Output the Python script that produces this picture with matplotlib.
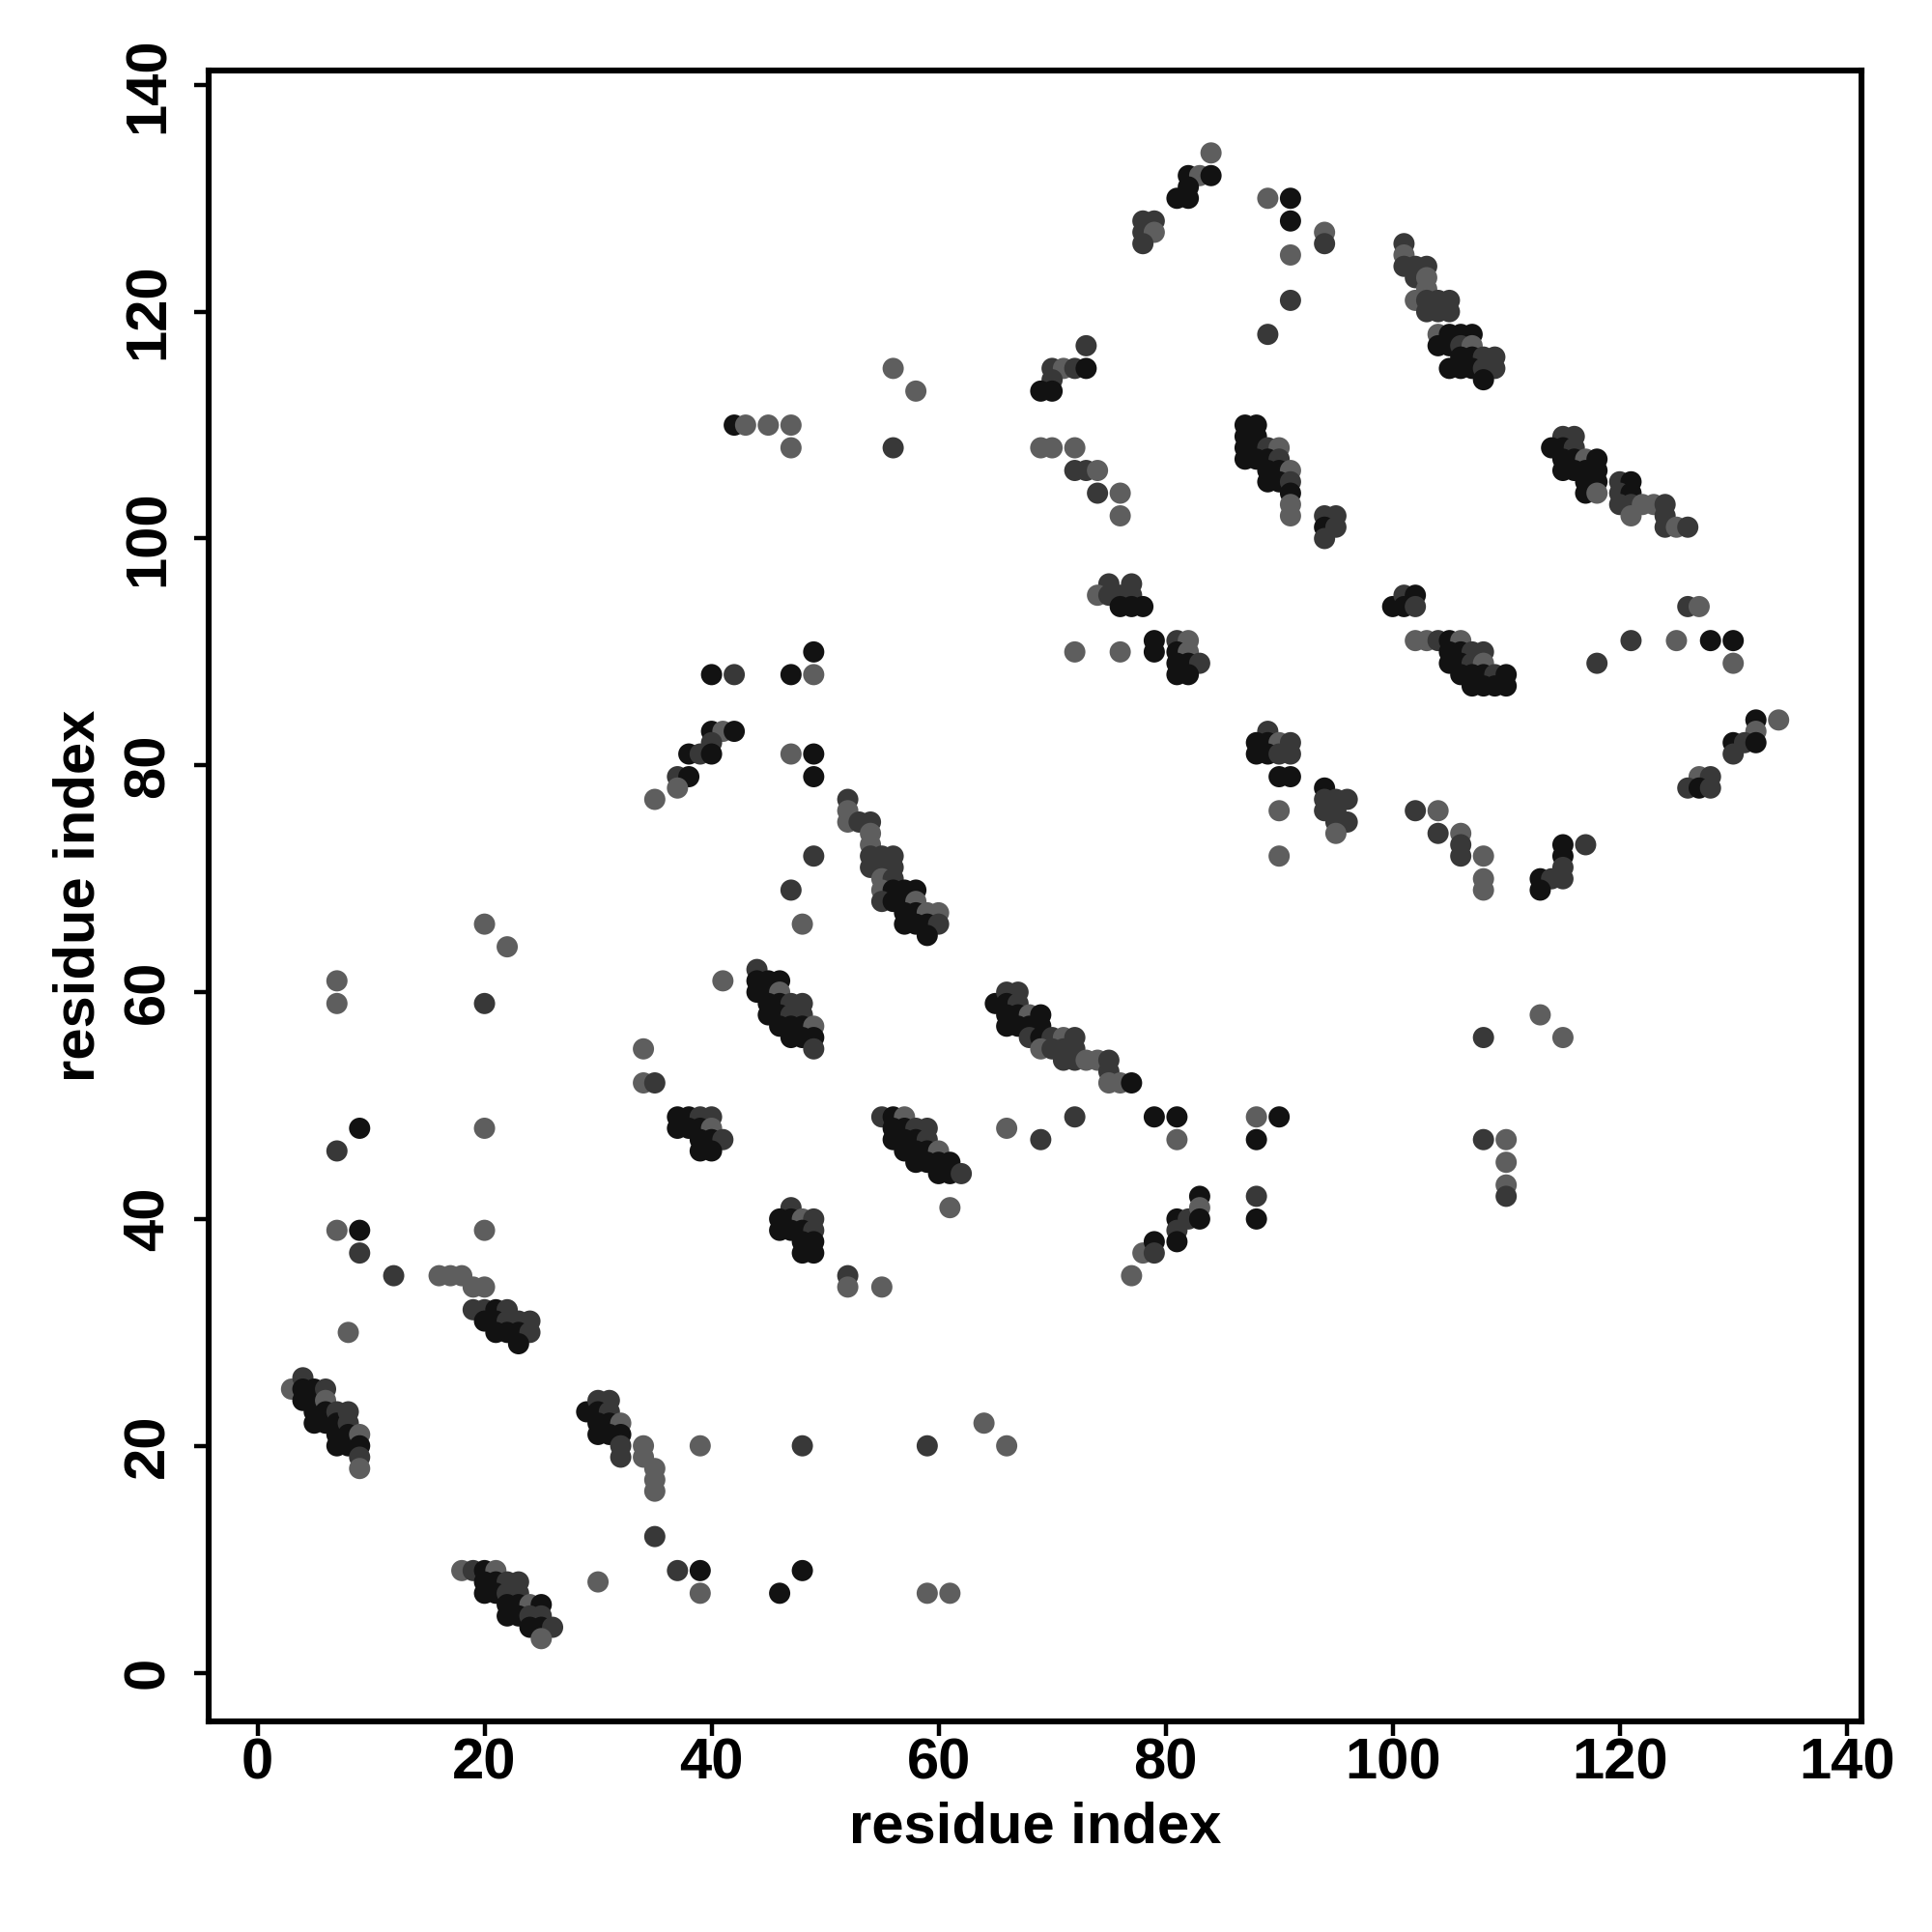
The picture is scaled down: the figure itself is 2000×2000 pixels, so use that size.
import matplotlib
matplotlib.use("Agg")
import matplotlib.pyplot as plt

plt.rcParams['font.family'] = ['Liberation Sans', 'DejaVu Sans']

# contacts: (residue i, residue j, shade) ; shade g=gray, d=dark, k=black
strand_a = [(3,25,'g'),(4,26,'d'),(4,25,'k'),(4,24,'k'),(5,25,'k'),(5,24,'k'),(5,23,'k'),(5,22,'k'),(6,25,'d'),(6,24,'g'),
            (6,23,'k'),(6,22,'k'),(7,23,'d'),(7,22,'k'),(7,21,'k'),(7,20,'k'),(8,23,'d'),(8,22,'d'),(8,21,'k'),(8,20,'k'),
            (9,21,'g'),(9,20,'k'),(9,19,'d'),(9,18,'g')]
low_left = [(7,39,'g'),(9,39,'k'),(9,37,'d'),(12,35,'d'),(20,39,'g'),(16,35,'g'),(17,35,'g'),(18,35,'g'),(19,34,'g'),(20,34,'g'),
            (19,32,'d'),(20,32,'d'),(21,32,'k'),(22,32,'d'),(20,31,'k'),(21,31,'k'),(22,31,'d'),(23,31,'d'),(24,31,'d'),
            (21,30,'k'),(22,30,'k'),(23,30,'k'),(24,30,'d'),(23,29,'k'),(8,30,'g')]
strand_b = [(18,9,'g'),(19,9,'d'),(20,9,'k'),(21,9,'g'),(20,8,'k'),(21,8,'k'),(22,8,'d'),(23,8,'d'),(20,7,'k'),(21,7,'k'),
            (22,7,'d'),(23,7,'d'),(22,6,'k'),(23,6,'k'),(24,6,'g'),(25,6,'k'),(22,5,'k'),(23,5,'k'),(24,5,'d'),(25,5,'d'),
            (24,4,'k'),(25,4,'k'),(26,4,'d'),(25,3,'g'),(30,8,'g')]
strand_c = [(29,23,'k'),(30,24,'d'),(31,24,'d'),(30,23,'k'),(31,23,'d'),(30,22,'k'),(31,22,'k'),(32,22,'g'),(30,21,'k'),
            (31,21,'k'),(32,21,'k'),(32,20,'d'),(32,19,'d'),(34,20,'g'),(34,19,'g'),(35,18,'g'),(35,17,'g'),(35,16,'g'),
            (35,12,'d'),(37,9,'d'),(39,9,'k'),(48,9,'k'),(39,7,'g'),(46,7,'k'),(59,7,'g'),(61,7,'g'),
            (39,20,'g'),(48,20,'d'),(59,20,'d'),(64,22,'g'),(66,20,'g')]
low_mid = [(47,41,'d'),(46,40,'k'),(47,40,'k'),(48,40,'g'),(49,40,'d'),(46,39,'k'),(47,39,'k'),(48,39,'k'),(49,39,'d'),
           (48,38,'k'),(49,38,'k'),(48,37,'k'),(49,37,'k'),(52,35,'d'),(52,34,'g'),(55,34,'g'),(61,41,'g'),
           (77,35,'g'),(78,37,'g'),(79,38,'k'),(79,37,'d'),(81,40,'k'),(81,39,'d'),(81,38,'k'),(82,40,'d'),(83,42,'k'),
           (83,41,'g'),(83,40,'k'),(88,42,'d'),(88,40,'k'),(110,43,'g'),(110,42,'d'),(110,45,'g'),(110,47,'g'),(108,47,'d')]
mid_left = [(20,66,'g'),(22,64,'g'),(7,61,'g'),(7,59,'g'),(20,59,'d'),(9,48,'k'),(7,46,'d'),(20,48,'g')]
upper_left = [(49,90,'k'),(40,88,'k'),(42,88,'d'),(47,88,'k'),(49,88,'g'),(40,83,'k'),(41,83,'g'),(42,83,'k'),(40,82,'d'),
              (38,81,'k'),(39,81,'d'),(40,81,'k'),(47,81,'g'),(49,81,'k'),(37,79,'d'),(38,79,'k'),(49,79,'k'),(37,78,'g'),
              (35,77,'g')]
strand_d = [(52,77,'d'),(52,76,'g'),(52,75,'g'),(53,75,'d'),(54,75,'d'),(54,74,'g'),(54,73,'g'),(49,72,'d'),(54,72,'d'),
            (55,72,'d'),(56,72,'d'),(54,71,'d'),(55,71,'d'),(56,71,'d'),(55,70,'g'),(56,70,'d'),(47,69,'d'),(55,69,'g'),
            (56,69,'k'),(57,69,'k'),(58,69,'k'),(55,68,'d'),(56,68,'k'),(57,68,'k'),(58,68,'g'),(57,67,'k'),(58,67,'k'),
            (59,67,'g'),(60,67,'g'),(48,66,'g'),(57,66,'k'),(58,66,'k'),(59,66,'k'),(60,66,'d'),(59,65,'k')]
strand_e = [(44,62,'d'),(41,61,'g'),(44,61,'k'),(45,61,'k'),(46,61,'k'),(44,60,'k'),(45,60,'k'),(46,60,'g'),(45,59,'k'),
            (46,59,'k'),(47,59,'d'),(48,59,'d'),(45,58,'k'),(46,58,'k'),(47,58,'d'),(48,58,'d'),(46,57,'k'),(47,57,'k'),
            (48,57,'k'),(49,57,'g'),(47,56,'k'),(48,56,'k'),(49,56,'k'),(49,55,'d'),(34,55,'g'),(34,52,'g'),(35,52,'d')]
strand_f = [(37,49,'k'),(38,49,'k'),(39,49,'d'),(40,49,'d'),(37,48,'k'),(38,48,'k'),(39,48,'k'),(40,48,'g'),(39,47,'k'),
            (40,47,'k'),(41,47,'d'),(39,46,'k'),(40,46,'k')]
strand_g = [(55,49,'d'),(56,49,'k'),(57,49,'g'),(56,48,'k'),(57,48,'k'),(58,48,'d'),(59,48,'d'),(56,47,'k'),(57,47,'k'),
            (58,47,'k'),(59,47,'d'),(57,46,'k'),(58,46,'k'),(59,46,'k'),(60,46,'g'),(58,45,'k'),(59,45,'k'),(60,45,'k'),
            (61,45,'k'),(60,44,'k'),(61,44,'k'),(62,44,'d'),(66,48,'g'),(69,47,'d'),(72,49,'d')]
strand_h = [(65,59,'k'),(66,60,'d'),(67,60,'d'),(66,59,'k'),(67,59,'d'),(66,58,'k'),(67,58,'k'),(68,58,'g'),(69,58,'k'),
            (66,57,'k'),(67,57,'k'),(68,57,'k'),(69,57,'k'),(68,56,'d'),(69,56,'k'),(70,56,'d'),(71,56,'g'),(72,56,'d'),
            (69,55,'g'),(70,55,'d'),(71,55,'d'),(72,55,'d'),(71,54,'d'),(72,54,'d'),(73,54,'g'),(74,54,'g'),(75,54,'d'),
            (75,53,'d'),(75,52,'g'),(76,52,'g'),(77,52,'k'),(79,49,'k'),(81,49,'k'),(88,49,'g'),(90,49,'k'),(81,47,'g'),
            (88,47,'k')]
mid_center = [(79,91,'k'),(81,91,'d'),(82,91,'g'),(72,90,'g'),(76,90,'g'),(79,90,'k'),(81,90,'k'),(82,90,'g'),(81,89,'k'),
              (82,89,'k'),(83,89,'d'),(81,88,'k'),(82,88,'k'),(89,83,'d'),(88,82,'k'),(89,82,'k'),(90,82,'g'),(91,82,'d'),
              (88,81,'k'),(89,81,'k'),(90,81,'d'),(91,81,'d'),(90,79,'k'),(91,79,'k'),(90,76,'g'),(90,72,'g'),
              (94,78,'k'),(94,77,'d'),(95,77,'d'),(96,77,'d'),(94,76,'d'),(95,76,'d'),(95,75,'d'),(96,75,'d'),(95,74,'g')]
mid_right = [(102,76,'d'),(104,76,'g'),(104,74,'d'),(106,74,'g'),(106,73,'d'),(106,72,'d'),(108,72,'g'),(108,70,'g'),
             (108,69,'g'),(115,73,'k'),(117,73,'d'),(115,72,'k'),(115,71,'d'),(113,70,'k'),(114,70,'d'),(115,70,'d'),
             (113,69,'k'),(113,58,'g'),(108,56,'d'),(115,56,'g')]
strand_i = [(102,91,'g'),(103,91,'g'),(104,91,'d'),(105,91,'k'),(106,91,'g'),(105,90,'k'),(106,90,'k'),(107,90,'d'),
            (108,90,'d'),(105,89,'k'),(106,89,'k'),(107,89,'d'),(108,89,'g'),(106,88,'k'),(107,88,'k'),(108,88,'k'),
            (109,88,'d'),(110,88,'k'),(107,87,'k'),(108,87,'k'),(109,87,'k'),(110,87,'k')]
far_right = [(121,91,'d'),(125,91,'g'),(128,91,'k'),(130,91,'k'),(118,89,'d'),(130,89,'g'),(132,84,'k'),(134,84,'g'),
             (132,83,'g'),(130,82,'k'),(131,82,'d'),(132,82,'k'),(130,81,'d'),(127,79,'g'),(128,79,'d'),(126,78,'d'),
             (127,78,'k'),(128,78,'d'),(126,94,'d'),(127,94,'g'),(100,94,'k'),(101,95,'d'),(102,95,'k'),(101,94,'k'),
             (102,94,'d')]
top_left = [(56,115,'g'),(58,113,'g'),(42,110,'k'),(43,110,'g'),(45,110,'g'),(47,110,'g'),(47,108,'g'),(56,108,'d')]
top_center = [(84,134,'g'),(82,132,'k'),(83,132,'g'),(84,132,'k'),(82,131,'k'),(81,130,'k'),(82,130,'k'),(89,130,'g'),
              (91,130,'k'),(78,128,'d'),(79,128,'d'),(91,128,'k'),(78,127,'d'),(79,127,'g'),(94,127,'g'),(78,126,'d'),
              (94,126,'d'),(91,125,'g'),(91,121,'d'),(89,118,'d'),(73,117,'d'),(70,115,'d'),(71,115,'g'),(72,115,'d'),
              (73,115,'k'),(70,114,'d'),(69,113,'k'),(70,113,'k'),(69,108,'g'),(70,108,'g'),(72,108,'g'),(72,106,'d'),
              (73,106,'d'),(74,106,'g'),(74,104,'d'),(76,104,'g'),(76,102,'g')]
strand_j = [(87,110,'k'),(88,110,'k'),(87,109,'k'),(88,109,'k'),(87,108,'k'),(88,108,'k'),(89,108,'d'),(90,108,'g'),
            (87,107,'k'),(88,107,'k'),(89,107,'k'),(90,107,'d'),(89,106,'k'),(90,106,'k'),(91,106,'g'),(89,105,'k'),
            (90,105,'k'),(91,105,'d'),(91,104,'k'),(91,103,'g'),(91,102,'g'),(94,102,'d'),(95,102,'d'),(94,101,'k'),
            (95,101,'d'),(94,100,'d'),(75,96,'d'),(77,96,'d'),(74,95,'g'),(75,95,'d'),(76,95,'d'),(77,95,'d'),
            (76,94,'k'),(77,94,'k'),(78,94,'k')]
strand_k = [(101,126,'d'),(101,125,'g'),(101,124,'d'),(102,124,'d'),(103,124,'d'),(102,123,'d'),(103,123,'g'),
            (103,122,'g'),(102,121,'g'),(103,121,'d'),(104,121,'d'),(105,121,'d'),(103,120,'d'),(104,120,'d'),
            (105,120,'d'),(104,118,'g'),(105,118,'k'),(106,118,'k'),(107,118,'k'),(104,117,'k'),(105,117,'k'),
            (106,117,'d'),(107,117,'g'),(106,116,'k'),(107,116,'k'),(108,116,'d'),(109,116,'d'),(105,115,'k'),
            (106,115,'k'),(107,115,'k'),(108,115,'d'),(109,115,'d'),(108,114,'k')]
strand_l = [(115,109,'d'),(116,109,'d'),(114,108,'k'),(115,108,'k'),(116,108,'d'),(115,107,'k'),(116,107,'k'),
            (117,107,'g'),(118,107,'k'),(115,106,'k'),(116,106,'k'),(117,106,'k'),(118,106,'k'),(117,105,'k'),
            (118,105,'k'),(117,104,'k'),(118,104,'g'),(120,105,'d'),(121,105,'k'),(120,104,'d'),(121,104,'k'),
            (120,103,'d'),(121,103,'d'),(122,103,'g'),(123,103,'g'),(124,103,'d'),(121,102,'g'),(124,102,'d'),
            (124,101,'d'),(125,101,'g'),(126,101,'d')]

groups = [strand_a, low_left, strand_b, strand_c, low_mid, mid_left, upper_left, strand_d, strand_e, strand_f,
          strand_g, strand_h, mid_center, mid_right, strand_i, far_right, top_left, top_center, strand_j,
          strand_k, strand_l]
shade_colors = {'g': '#5e5e5e', 'd': '#383838', 'k': '#121212'}

xs, ys, cs = [], [], []
for grp in groups:
    for (i, j, s) in grp:
        xs.append(i); ys.append(j); cs.append(shade_colors[s])

fig = plt.figure(figsize=(20, 20), dpi=100)
ax = fig.add_axes([0.108, 0.109, 0.8555, 0.8547])
ax.scatter(xs, ys, s=250, c=cs, linewidths=0, zorder=3)

ax.set_xlim(-4.3, 141.3)
ax.set_ylim(-4.3, 141.3)
ticks = [0, 20, 40, 60, 80, 100, 120, 140]
ax.set_xticks(ticks)
ax.set_yticks(ticks)
ax.set_xticklabels([str(t) for t in ticks], fontsize=43, fontweight='bold')
ax.set_yticklabels([str(t) for t in ticks], fontsize=43, fontweight='bold', rotation=90, va='center')
ax.tick_params(axis='both', direction='out', length=11, width=3.2)
ax.tick_params(axis='x', pad=1)
ax.tick_params(axis='y', pad=14)
for sp in ax.spines.values():
    sp.set_linewidth(4.4)
ax.set_xlabel('residue index', fontsize=43, fontweight='bold', labelpad=8)
ax.set_ylabel('residue index', fontsize=43, fontweight='bold', labelpad=12)

fig.savefig('out.png', dpi=100, facecolor='white')
